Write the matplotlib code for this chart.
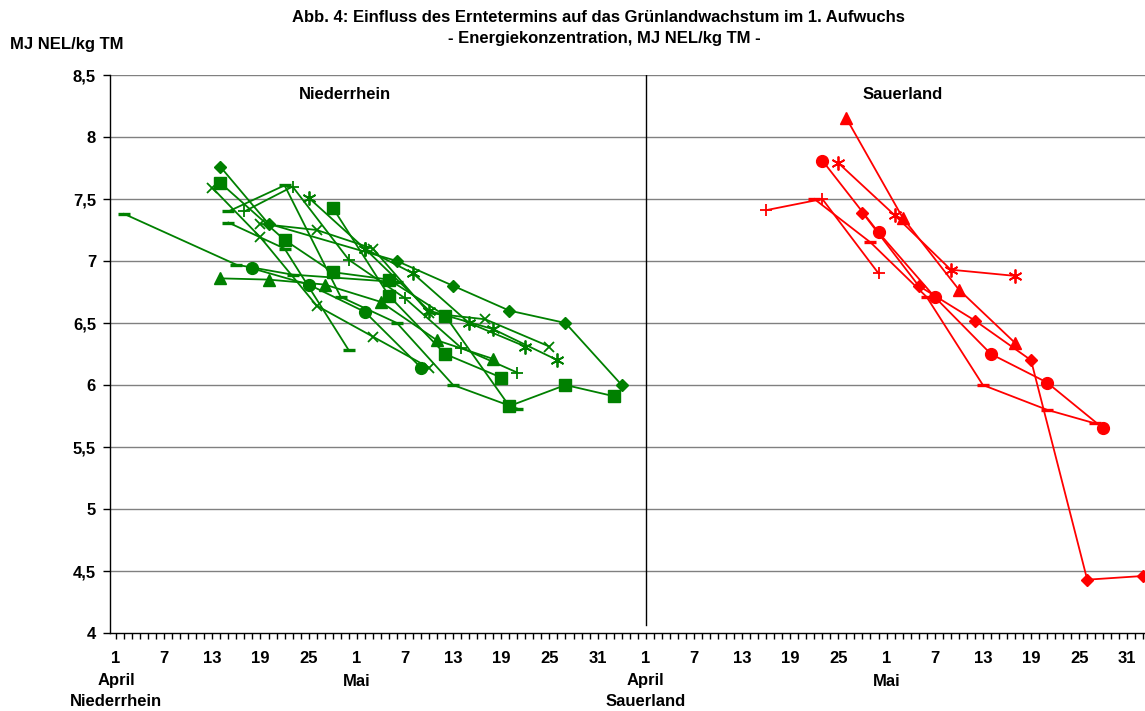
import matplotlib
matplotlib.use("Agg")
import matplotlib.pyplot as plt
import matplotlib.transforms as mtransforms
import numpy as np

plt.rcParams.update({
    "font.family": ["Liberation Sans", "DejaVu Sans"],
    "font.weight": "bold",
    "font.size": 12,
})

# days counted from 1 April (index 0); Sauerland days are counted from its own 1 April
SAUER_OFFSET = 66

# Niederrhein (green)
nr_diamond_days = [13, 19, 35, 42, 49, 56, 63]
nr_diamond_vals = [7.76, 7.30, 7.00, 6.80, 6.60, 6.50, 6.00]
nr_square1_days = [13, 21, 27, 34, 41, 49, 56, 62]
nr_square1_vals = [7.63, 7.17, 6.91, 6.85, 6.56, 5.83, 6.00, 5.91]
nr_square2_days = [27, 34, 41, 48]
nr_square2_vals = [7.43, 6.72, 6.25, 6.06]
nr_triangle_days = [13, 19, 26, 33, 40, 47]
nr_triangle_vals = [6.86, 6.85, 6.81, 6.67, 6.36, 6.21]
nr_circle_days = [17, 24, 31, 38]
nr_circle_vals = [6.94, 6.81, 6.59, 6.14]
nr_plus_days = [16, 22, 29, 36, 43, 50]
nr_plus_vals = [7.40, 7.60, 7.01, 6.70, 6.30, 6.10]
nr_dash1_days = [1, 15, 22, 35]
nr_dash1_vals = [7.38, 6.97, 6.89, 6.83]
nr_dash2_days = [14, 21, 28, 35, 42, 50]
nr_dash2_vals = [7.40, 7.61, 6.71, 6.50, 6.00, 5.81]
nr_dash3_days = [14, 21, 29]
nr_dash3_vals = [7.31, 7.10, 6.28]
nr_x1_days = [12, 18, 25, 32, 39]
nr_x1_vals = [7.59, 7.19, 6.64, 6.39, 6.14]
nr_x2_days = [18, 25, 32, 39, 46, 54]
nr_x2_vals = [7.30, 7.25, 7.10, 6.58, 6.53, 6.31]
nr_star1_days = [24, 31, 37, 44, 51]
nr_star1_vals = [7.51, 7.10, 6.90, 6.50, 6.31]
nr_star2_days = [31, 39, 47, 55]
nr_star2_vals = [7.10, 6.60, 6.45, 6.20]

# Sauerland (red)
sl_triangle_days = [25, 32, 39, 46]
sl_triangle_vals = [8.15, 7.35, 6.77, 6.34]
sl_circle_days = [22, 29, 36, 43, 50, 57]
sl_circle_vals = [7.81, 7.23, 6.71, 6.25, 6.02, 5.65]
sl_star_days = [24, 31, 38, 46]
sl_star_vals = [7.79, 7.37, 6.93, 6.88]
sl_plus_days = [15, 22, 29]
sl_plus_vals = [7.41, 7.50, 6.90]
sl_diamond_days = [27, 34, 41, 48, 55, 62]
sl_diamond_vals = [7.39, 6.80, 6.52, 6.20, 4.43, 4.46]
sl_dash_days = [21, 28, 35, 42, 50, 56]
sl_dash_vals = [7.50, 7.15, 6.71, 6.00, 5.80, 5.69]

xtick_pos = [0, 6, 12, 18, 24, 30, 36, 42, 48, 54, 60,
             66, 72, 78, 84, 90, 96, 102, 108, 114, 120, 126]
xtick_labels = ["1", "7", "13", "19", "25", "1", "7", "13", "19", "25", "31",
                "1", "7", "13", "19", "25", "1", "7", "13", "19", "25", "31"]
month_pos = [0, 30, 66, 96]
month_labels = ["April", "Mai", "April", "Mai"]
region_pos = [0, 66]
region_labels = ["Niederrhein", "Sauerland"]
ytick_pos = [4, 4.5, 5, 5.5, 6, 6.5, 7, 7.5, 8, 8.5]
ytick_labels = ["4", "4,5", "5", "5,5", "6", "6,5", "7", "7,5", "8", "8,5"]

GREEN = "#008000"
RED = "#ff0000"
STAR = (6, 2, 0)

styles = {
    "diamond": dict(marker="D", ms=6.5),
    "square": dict(marker="s", ms=8.5),
    "triangle": dict(marker="^", ms=8.5),
    "circle": dict(marker="o", ms=8.5),
    "plus": dict(marker="+", ms=9, mew=1.3),
    "dash": dict(marker="_", ms=8, mew=2.4),
    "x": dict(marker="x", ms=7.5, mew=1.3),
    "star": dict(marker=STAR, ms=10, mew=1.3),
}

green_series = [
    (nr_diamond_days, nr_diamond_vals, "diamond"),
    (nr_square1_days, nr_square1_vals, "square"),
    (nr_square2_days, nr_square2_vals, "square"),
    (nr_triangle_days, nr_triangle_vals, "triangle"),
    (nr_circle_days, nr_circle_vals, "circle"),
    (nr_plus_days, nr_plus_vals, "plus"),
    (nr_dash1_days, nr_dash1_vals, "dash"),
    (nr_dash2_days, nr_dash2_vals, "dash"),
    (nr_dash3_days, nr_dash3_vals, "dash"),
    (nr_x1_days, nr_x1_vals, "x"),
    (nr_x2_days, nr_x2_vals, "x"),
    (nr_star1_days, nr_star1_vals, "star"),
    (nr_star2_days, nr_star2_vals, "star"),
]
red_series = [
    (sl_triangle_days, sl_triangle_vals, "triangle"),
    (sl_circle_days, sl_circle_vals, "circle"),
    (sl_star_days, sl_star_vals, "star"),
    (sl_plus_days, sl_plus_vals, "plus"),
    (sl_diamond_days, sl_diamond_vals, "diamond"),
    (sl_dash_days, sl_dash_vals, "dash"),
]

fig = plt.figure(figsize=(11.45, 7.11), dpi=100)
ax = fig.add_axes([110 / 1145, 1 - 633 / 711, 1 - 110 / 1145, (633 - 75) / 711])

for y in ytick_pos[1:]:
    ax.axhline(y, color="#808080", lw=1.0, zorder=1)
ax.axvline(SAUER_OFFSET, ymin=0.015, ymax=1, color="black", lw=1.0, zorder=1)

for days, vals, kind in green_series:
    ax.plot(days, vals, color=GREEN, lw=1.3, mfc=GREEN, mec=GREEN, zorder=3, **styles[kind])
for days, vals, kind in red_series:
    ax.plot(np.array(days) + SAUER_OFFSET, vals, color=RED, lw=1.3, mfc=RED, mec=RED, zorder=3, **styles[kind])

ax.set_xlim(-0.75, 128.2)
ax.set_ylim(4, 8.5)
ax.set_yticks(ytick_pos)
ax.set_yticklabels(ytick_labels)
ax.set_xticks(xtick_pos)
ax.set_xticklabels(xtick_labels)
ax.set_xticks(np.arange(0, 129, 1), minor=True)
ax.tick_params(axis="x", which="both", direction="out", length=4, width=1, pad=9, labelsize=12)
ax.tick_params(axis="y", direction="out", length=5, width=1, pad=5, labelsize=12)
for lab in ax.get_xticklabels() + ax.get_yticklabels():
    lab.set_fontweight("bold")

# month and region names under the day numbers
trans = mtransforms.blended_transform_factory(ax.transData, fig.transFigure)
for x, name in zip(month_pos, month_labels):
    ax.text(x, 1 - 681 / 711, name, transform=trans, ha="center", va="center",
            fontsize=12, fontweight="bold")
for x, name in zip(region_pos, region_labels):
    ax.text(x, 1 - 701 / 711, name, transform=trans, ha="center", va="center",
            fontsize=12, fontweight="bold")

ax.spines["top"].set_visible(False)
ax.spines["right"].set_visible(False)
ax.spines["left"].set_linewidth(1.0)
ax.spines["bottom"].set_linewidth(1.0)

ax.text(28.5, 8.34, "Niederrhein", ha="center", va="center", fontsize=12, fontweight="bold")
ax.text(98, 8.34, "Sauerland", ha="center", va="center", fontsize=12, fontweight="bold")

fig.text(598 / 1145, 1 - 18 / 711, "Abb. 4: Einfluss des Erntetermins auf das Grünlandwachstum im 1. Aufwuchs",
         ha="center", va="center", fontsize=12, fontweight="bold")
fig.text(604 / 1145, 1 - 38 / 711, "- Energiekonzentration, MJ NEL/kg TM -",
         ha="center", va="center", fontsize=12, fontweight="bold")
fig.text(10 / 1145, 1 - 44 / 711, "MJ NEL/kg TM", ha="left", va="center", fontsize=12, fontweight="bold")

fig.savefig("out.png", dpi=100)
